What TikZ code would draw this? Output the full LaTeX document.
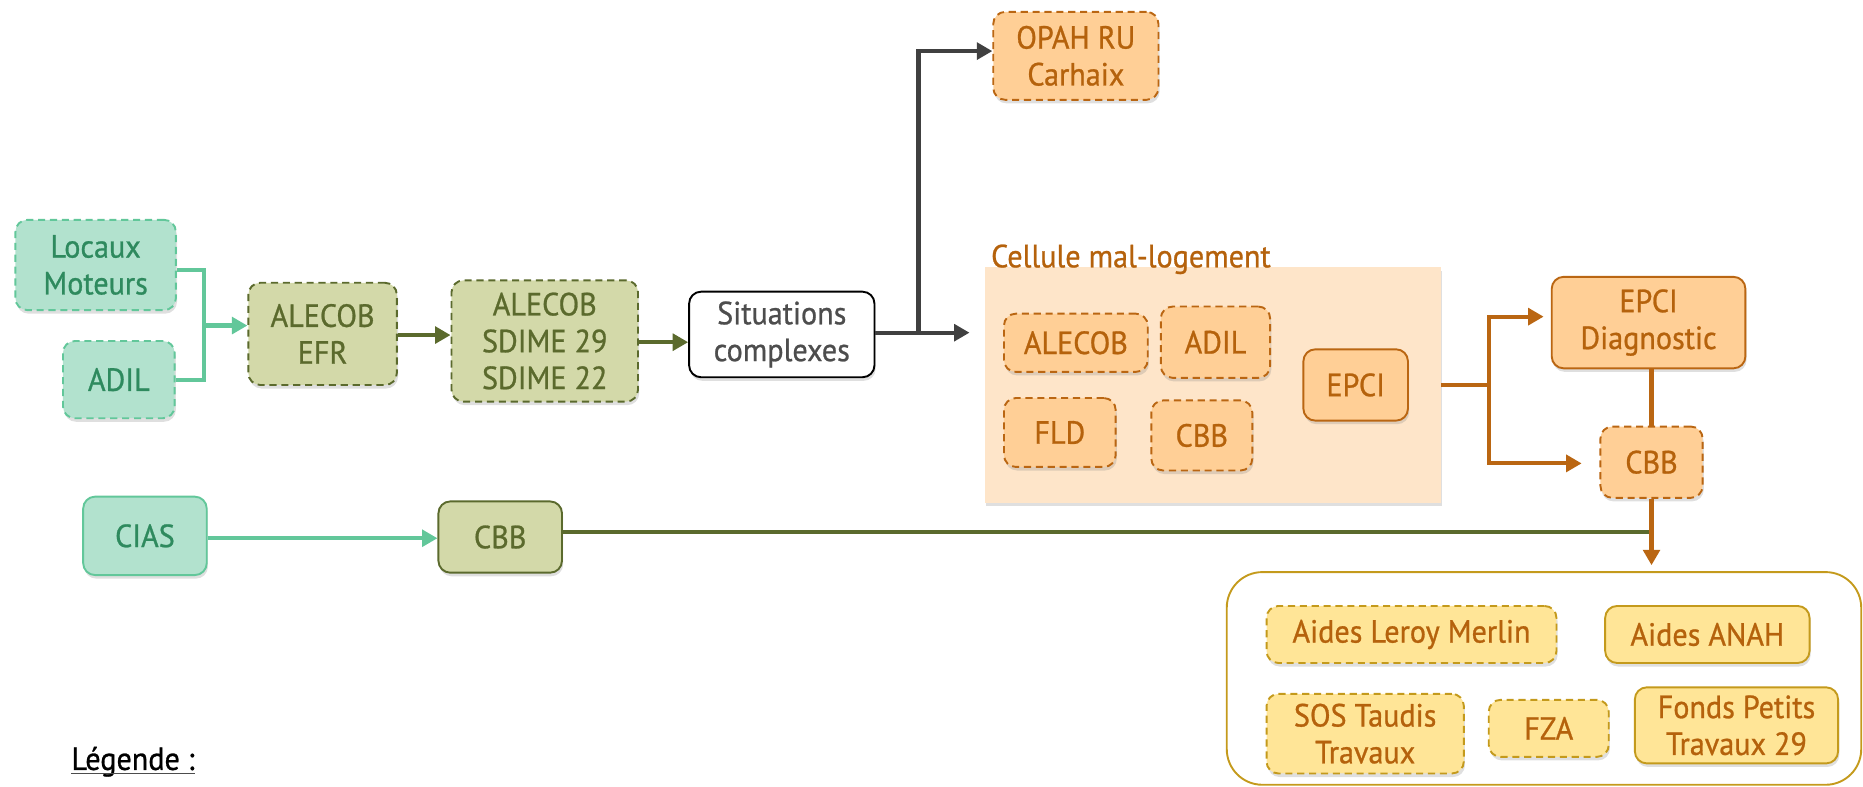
\documentclass[tikz,border=0pt]{standalone}
\usepackage{fontspec}
\setmainfont{PT Sans}[FakeStretch=0.94,FakeBold=0.8]
\usetikzlibrary{arrows.meta,shadows,calc}
\definecolor{mintF}{HTML}{B2E2CE}
\definecolor{mintD}{HTML}{62C79A}
\definecolor{mintT}{HTML}{2E8A5E}
\definecolor{oliveF}{HTML}{D3D9A9}
\definecolor{oliveD}{HTML}{5B6A2D}
\definecolor{oliveT}{HTML}{5B6A2D}
\definecolor{orF}{HTML}{FFCF96}
\definecolor{orD}{HTML}{BA6612}
\definecolor{orT}{HTML}{B5620C}
\definecolor{panelF}{HTML}{FEE5C9}
\definecolor{yelF}{HTML}{FFE597}
\definecolor{yelD}{HTML}{C49A1C}
\definecolor{grayC}{HTML}{404040}
\definecolor{situT}{HTML}{4D4D4D}
\begin{document}
\begin{tikzpicture}[x=1pt,y=1pt,
  font=\fontsize{27}{31}\selectfont,
  box/.style={rounded corners=10pt, align=center, inner sep=0pt, line width=1.6pt,
    drop shadow={opacity=0.25,shadow xshift=1pt,shadow yshift=-3pt}},
  dsh/.style={dash pattern=on 6pt off 4pt},
  mint/.style={box, fill=mintF, draw=mintD, text=mintT},
  olive/.style={box, fill=oliveF, draw=oliveD, text=oliveT},
  orbox/.style={box, fill=orF, draw=orD, text=orT},
  yelbox/.style={box, fill=yelF, draw=yelD, text=orT},
  conn/.style={line width=3.5pt},
  arr/.style={conn, -{Triangle[length=13pt,width=14pt]}},
  sz/.style 2 args={minimum width=#1pt, minimum height=#2pt}
]
\useasboundingbox (0,0) rectangle (1568,-662);

% green / olive chain
\node[mint,dsh,sz={135}{76}] (locaux) at (80.5,-223) {Locaux\\Moteurs};
\node[mint,dsh,sz={94}{65}] (adilg) at (100,-319.5) {ADIL};
\node[olive,dsh,sz={125}{86}] (efr) at (271.5,-281) {ALECOB\\EFR};
\node[olive,dsh,sz={157}{102}] (sdime) at (458.5,-287) {ALECOB\\SDIME 29\\SDIME 22};
\node[box,fill=white,draw=black,text=situT,sz={156}{72}] (situ) at (658,-281.5) {Situations\\complexes};
\node[orbox,dsh,sz={139}{74}] (opah) at (905.5,-47) {OPAH RU\\Carhaix};

% cellule panel
\node[fill=panelF, inner sep=0pt, sz={384}{198},
  drop shadow={opacity=0.25,shadow xshift=1pt,shadow yshift=-3pt}] (panel) at (1021,-324) {};
\node[anchor=base west, text=orT, inner sep=0pt] (title) at (834,-225) {Cellule mal-logement};
\node[orbox,dsh,sz={121}{49}] (alecobo) at (905.5,-288.5) {ALECOB};
\node[orbox,dsh,sz={92}{60}] (adilo) at (1023,-288) {ADIL};
\node[orbox,dsh,sz={94}{58}] (fld) at (892,-364) {FLD};
\node[orbox,dsh,sz={85}{59}] (cbbo) at (1011.5,-366.5) {CBB};
\node[orbox,sz={88}{60}] (epci) at (1141,-324) {EPCI};

% right column
\node[orbox,sz={163}{77}] (diag) at (1387.5,-271.5) {EPCI\\Diagnostic};
\node[orbox,dsh,sz={86}{60}] (cbbr) at (1390,-389) {CBB};

% bottom left
\node[mint,sz={104}{66}] (cias) at (122,-451) {CIAS};
\node[olive,sz={104}{60}] (cbbg) at (421,-452) {CBB};

% aides container
\node[draw=yelD, line width=1.6pt, rounded corners=30pt, inner sep=0pt, sz={534}{179}] (cont) at (1299.5,-571) {};
\node[yelbox,dsh,sz={244}{48}] (leroy) at (1188,-534) {Aides Leroy Merlin};
\node[yelbox,sz={172}{48}] (anah) at (1437,-534) {Aides ANAH};
\node[yelbox,dsh,sz={166}{67}] (sos) at (1149,-617.5) {SOS Taudis\\Travaux};
\node[yelbox,dsh,sz={101}{48}] (fza) at (1303.5,-613) {FZA};
\node[yelbox,sz={171}{64}] (fonds) at (1461.5,-610.5) {Fonds Petits\\Travaux 29};

% legend
\node[anchor=base west, inner sep=0pt, text=black] (leg) at (60,-648) {Légende :};
\draw[line width=0.8pt, black!70] ($(leg.base west)+(0,-3)$) -- ($(leg.base east)+(0,-3)$);

% connectors: mint
\coordinate (j1) at (172,-274);
\draw[mintD,conn] ($(locaux.east)+(0,-4)$) -| (j1) |- (adilg.east);
\draw[mintD,arr] (j1) -- (j1 -| efr.west);
\draw[mintD,arr] (cias.east |- 0,-453) -- (cbbg.west |- 0,-453);

% olive
\draw[oliveD,arr] ($(efr.east)+(0,-1)$) -- ($(efr.east -| sdime.west)+(0,-1)$);
\draw[oliveD,arr] ($(sdime.east)+(0,-1)$) -- ($(sdime.east -| situ.west)+(0,-1)$);
\draw[oliveD,conn] ($(cbbg.east)+(0,4)$) -- ($(cbbg.east -| cbbr.south)+(0,4)$);

% gray
\coordinate (j2) at (773,-280);
\coordinate (t2) at (816,-280);
\draw[grayC,arr] (situ.east |- j2) -- (t2);
\draw[grayC,arr] (j2) |- ($(opah.west)+(0,4)$);

% orange
\coordinate (j3) at (1253,-324);
\draw[orD,conn] (panel.east |- j3) -- (j3);
\draw[orD,arr,shorten >=6pt] (j3) |- ($(diag.west)+(0,5)$);
\draw[orD,arr,shorten >=15pt] (j3) |- ($(cbbr.west)+(0,-1)$);
\draw[orD,conn] (cbbr.north |- diag.south) -- (cbbr.north);
\draw[orD,arr,shorten >=5pt] (cbbr.south) -- (cbbr.south |- cont.north);
\end{tikzpicture}
\end{document}
